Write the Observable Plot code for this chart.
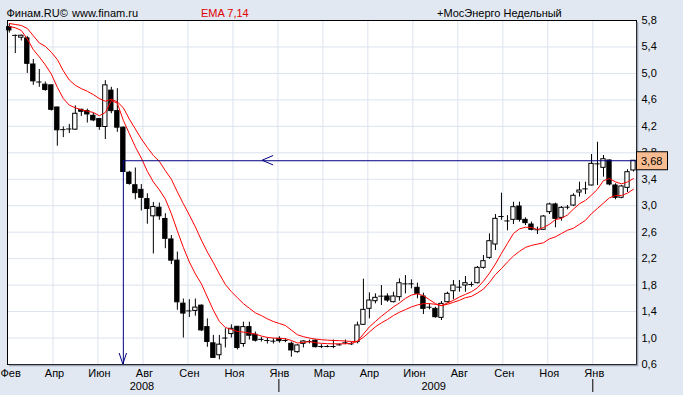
<!DOCTYPE html>
<html><head><meta charset="utf-8">
<script src="https://cdn.jsdelivr.net/npm/d3@7"></script>
<script src="https://cdn.jsdelivr.net/npm/@observablehq/plot@0.6"></script>
<style>
html,body{margin:0;padding:0;background:#E1E8F2;overflow:hidden;}
#chart svg{display:block;}
</style></head><body><div id="chart"></div>
<script>
// Weekly candles, index 0 = first week of Feb 2008
const opens  = [5.70,5.58,5.54,5.53,5.135,4.87,4.83,4.82,4.485,4.15,4.16,4.15,4.45,4.43,4.36,4.31,4.19,4.74,4.43,4.18,
  3.50,3.31,3.24,3.10,2.84,2.97,2.80,2.49,2.17,1.52,1.41,1.41,1.49,1.165,0.92,0.74,1.00,1.06,1.17,0.91,
  1.165,1.05,0.98,0.963,0.953,0.988,0.963,0.913,0.787,0.912,0.948,0.96,0.872,0.872,0.872,0.897,0.928,0.912,0.938,1.20,
  1.442,1.557,1.633,1.628,1.542,1.618,1.819,1.819,1.759,1.628,1.466,1.441,1.305,1.542,1.708,1.769,1.794,1.809,1.829,2.061,
  2.212,2.414,2.837,2.77,2.787,2.988,2.787,2.716,2.636,2.636,2.903,3.019,2.817,2.978,3.003,3.20,3.255,3.306,3.633,3.573,
  3.684,3.306,3.12,3.27,3.533];
const highs  = [5.74,5.58,5.58,5.56,5.21,5.06,4.87,4.82,4.49,4.19,4.23,4.51,4.46,4.46,4.40,4.32,4.89,4.79,4.77,4.19,
  3.52,3.57,3.32,3.18,3.05,3.04,2.88,2.55,2.30,1.59,1.58,1.59,1.50,1.29,1.04,1.04,1.14,1.20,1.17,1.24,
  1.24,1.09,1.01,1.00,0.99,1.02,0.99,0.94,0.90,0.96,0.97,0.97,0.90,0.888,0.97,0.91,0.97,0.937,1.24,1.89,
  1.683,1.668,1.794,1.668,1.693,1.895,1.945,1.88,1.829,1.678,1.517,1.466,1.552,1.693,1.87,1.87,1.93,1.844,2.081,2.247,
  2.575,2.867,3.19,2.85,3.054,3.054,2.817,2.752,2.676,2.852,3.039,3.039,2.988,3.003,3.18,3.356,3.356,3.774,3.96,3.759,
  3.693,3.331,3.306,3.543,3.684];
const lows   = [5.61,5.30,5.49,5.00,4.82,4.79,4.73,4.43,3.90,4.03,4.09,4.14,4.35,4.25,4.27,4.14,4.00,4.39,4.11,3.50,
  3.31,3.09,2.92,2.72,2.27,2.78,2.35,2.11,1.42,1.00,1.31,1.33,1.10,0.86,0.70,0.67,0.85,1.00,0.82,0.86,
  0.97,0.94,0.94,0.91,0.91,0.923,0.93,0.71,0.77,0.85,0.91,0.85,0.84,0.852,0.84,0.88,0.90,0.887,0.912,1.19,
  1.29,1.517,1.492,1.54,1.532,1.557,1.668,1.744,1.593,1.356,1.426,1.30,1.265,1.53,1.578,1.693,1.693,1.769,1.819,2.04,
  2.19,2.323,2.78,2.62,2.716,2.752,2.701,2.62,2.565,2.626,2.867,2.666,2.767,2.938,2.988,3.13,3.17,3.30,3.306,3.432,
  3.30,3.09,3.105,3.20,3.51];
const closes = [5.65,5.575,5.57,5.145,4.88,4.87,4.75,4.45,4.14,4.15,4.16,4.39,4.42,4.38,4.29,4.19,4.82,4.43,4.18,3.51,
  3.33,3.19,3.12,2.95,2.98,2.84,2.50,2.17,1.54,1.37,1.41,1.46,1.115,0.94,0.70,0.90,1.00,1.14,0.85,1.165,
  1.035,0.96,0.98,0.963,0.953,0.953,0.963,0.812,0.888,0.948,0.948,0.862,0.872,0.872,0.872,0.897,0.928,0.912,1.19,1.426,
  1.567,1.608,1.633,1.567,1.628,1.829,1.819,1.819,1.668,1.441,1.466,1.315,1.517,1.668,1.794,1.769,1.829,1.809,2.061,2.162,
  2.464,2.802,2.837,2.77,2.978,2.787,2.737,2.636,2.636,2.837,3.019,2.802,2.968,2.978,3.15,3.23,3.255,3.633,3.633,3.703,
  3.321,3.12,3.291,3.507,3.68];

// EMA lines
const ema7 = [5.71,5.69,5.65,5.52,5.36,5.25,5.13,4.99,4.79,4.62,4.52,4.48,4.45,4.43,4.41,4.36,4.41,4.59,4.55,4.29,
  4.09,3.89,3.72,3.52,3.36,3.24,3.10,2.88,2.62,2.37,2.15,1.97,1.82,1.62,1.42,1.25,1.16,1.13,1.10,1.09,
  1.075,1.06,1.03,1.01,1.00,0.995,0.99,0.963,0.925,0.935,0.945,0.93,0.92,0.915,0.913,0.913,0.913,0.92,0.95,1.06,
  1.17,1.25,1.33,1.40,1.47,1.53,1.60,1.65,1.67,1.64,1.58,1.52,1.49,1.53,1.57,1.62,1.66,1.70,1.76,1.86,
  1.98,2.12,2.28,2.43,2.58,2.65,2.675,2.67,2.64,2.67,2.72,2.79,2.81,2.86,2.95,3.03,3.08,3.16,3.25,3.38,
  3.41,3.36,3.33,3.36,3.41];
const ema14 = [5.755,5.74,5.725,5.68,5.57,5.46,5.41,5.32,5.21,5.04,4.90,4.82,4.77,4.73,4.68,4.62,4.58,4.61,4.57,4.48,
  4.31,4.16,4.01,3.88,3.76,3.67,3.53,3.40,3.21,3.03,2.86,2.68,2.48,2.30,2.14,1.97,1.81,1.70,1.61,1.52,
  1.45,1.38,1.34,1.29,1.25,1.22,1.19,1.12,1.05,1.02,1.00,0.985,0.975,0.968,0.963,0.96,0.955,0.948,0.95,1.01,
  1.09,1.17,1.23,1.28,1.34,1.39,1.43,1.47,1.50,1.52,1.52,1.51,1.49,1.51,1.54,1.57,1.61,1.63,1.68,1.74,
  1.84,1.96,2.05,2.15,2.24,2.31,2.37,2.40,2.42,2.44,2.50,2.53,2.58,2.63,2.66,2.72,2.78,2.88,2.96,3.04,
  3.12,3.155,3.155,3.19,3.25];

// Axes
const yTicks = [0.6,1.0,1.4,1.8,2.2,2.6,3.0,3.4,3.8,4.2,4.6,5.0,5.4,5.8];
const monthNames = ["Фев","Апр","Июн","Авг","Сен","Ноя","Янв","Мар","Апр","Июн","Авг","Сен","Ноя","Янв"];
const monthIdx = [-0.22,7.28,14.77,22.27,29.76,37.26,44.75,52.25,59.74,67.24,74.73,82.23,89.72,97.22];
const yearNames = ["2008","2009"];
const yearIdx = [22.1,70.7];
const yearMarkIdx = [45.0,97.3];
const xMin = -0.3, xMax = 104.5, yMin = 0.6, yMax = 5.8;

// Annotation (horizontal level with arrow, vertical marker)
const levelPrice = 3.68, levelStartIdx = 19, levelArrowIdx = 42.2;
const lastPrice = 3.68;

const candles = opens.map((o,i)=>({i, open:o, high:highs[i], low:lows[i], close:closes[i]}));
const isDoji = d => Math.abs(d.open-d.close) < 0.008;
const e7 = ema7.map((v,i)=>({i,v}));
const e14 = ema14.map((v,i)=>({i,v}));
const fmt = v => v.toFixed(1).replace(".", ",");
const grid = "#DCE3EE", navy = "#000080";
const hw = 0.36;

const plot = Plot.plot({
  width: 683, height: 395,
  marginLeft: 7, marginRight: 47, marginTop: 20, marginBottom: 31,
  x: {type: "linear", domain: [xMin, xMax], axis: null},
  y: {domain: [yMin, yMax], axis: null},
  style: {background: "#E1E8F2", fontFamily: "'Liberation Sans', Arial, sans-serif", fontSize: "11px", color: "black"},
  marks: [
    Plot.frame({fill: "white"}),
    Plot.ruleY(yTicks.slice(1, -1), {stroke: grid}),
    Plot.ruleX(monthIdx.slice(1), {stroke: grid}),
    Plot.ruleX(candles, {x: "i", y1: "low", y2: "high", stroke: "black"}),
    Plot.rect(candles.filter(d => !isDoji(d) && d.close < d.open), {x1: d => d.i - hw, x2: d => d.i + hw, y1: "open", y2: "close", fill: "black", stroke: "black"}),
    Plot.rect(candles.filter(d => !isDoji(d) && d.close >= d.open), {x1: d => d.i - hw, x2: d => d.i + hw, y1: "open", y2: "close", fill: "white", stroke: "black"}),
    Plot.ruleY(candles.filter(isDoji), {y: "close", x1: d => d.i - hw - 0.08, x2: d => d.i + hw + 0.08, stroke: "black"}),
    Plot.line(e14, {x: "i", y: "v", stroke: "red", strokeWidth: 1}),
    Plot.line(e7, {x: "i", y: "v", stroke: "red", strokeWidth: 1}),
    Plot.ruleY([{y: levelPrice, x1: levelStartIdx, x2: xMax}], {y: "y", x1: "x1", x2: "x2", stroke: navy}),
    Plot.ruleX([{x: levelStartIdx, y1: yMin, y2: levelPrice}], {x: "x", y1: "y1", y2: "y2", stroke: navy}),
    Plot.frame({stroke: "black"}),
    Plot.text(yTicks, {x: xMax, y: d => d, text: fmt, textAnchor: "start", dx: 5, fill: "black"}),
    Plot.text(monthNames.map((t,k)=>({t, x: monthIdx[k]})).slice(1), {x: "x", y: yMin, text: "t", dy: 9, dx: 1.5, fill: "black"}),
    Plot.text([{t: monthNames[0], x: monthIdx[0]}], {x: "x", y: yMin, text: "t", dy: 9, dx: -7.5, textAnchor: "start", fill: "black"}),
    Plot.text(yearNames.map((t,k)=>({t, x: yearIdx[k]})), {x: "x", y: yMin, text: "t", dy: 22, fill: "black"})
  ]
});
document.getElementById("chart").appendChild(plot);

const X = plot.scale("x"), Y = plot.scale("y");
const sx = v => X.apply(v), sy = v => Y.apply(v);
const svg = d3.select(plot);
const font = "'Liberation Sans', Arial, sans-serif";

// frame shadow
const fx1 = sx(xMin), fx2 = sx(xMax), fy1 = sy(yMax), fy2 = sy(yMin);
svg.append("path").attr("d", `M${fx2+1.5},${fy1+2}V${fy2+1.5}H${fx1+2}`)
  .attr("fill", "none").attr("stroke", "#9AA2B4").attr("stroke-width", 1.5);

// arrowheads
const ax = sx(levelArrowIdx), ay = sy(levelPrice);
svg.append("path").attr("d", `M${ax+11},${ay-4.7}L${ax},${ay}L${ax+11},${ay+4.7}`)
  .attr("fill", "none").attr("stroke", navy);
const vx = sx(levelStartIdx), vy = sy(yMin);
svg.append("path").attr("d", `M${vx-3.7},${vy-11}L${vx},${vy}L${vx+3.7},${vy-11}`)
  .attr("fill", "none").attr("stroke", navy);

// year separators
yearMarkIdx.forEach(v => {
  svg.append("line").attr("x1", sx(v)).attr("x2", sx(v)).attr("y1", fy2 + 15).attr("y2", fy2 + 28)
    .attr("stroke", "black");
});

// last price box
function fmt2(v){ return v.toFixed(2).replace(".", ","); }
const py = sy(lastPrice);
svg.append("rect").attr("x", fx2 + 0.5).attr("y", py - 8.5).attr("width", 31).attr("height", 18)
  .attr("fill", "#F8BC92").attr("stroke", "black");
svg.append("text").attr("x", fx2 + 5).attr("y", py + 0.5).attr("dy", "0.35em").attr("text-anchor", "start")
  .attr("font-family", font).attr("font-size", 11).attr("fill", "black").text(fmt2(lastPrice));

// header texts
const header = [
  {t: "Финам.RU©", x: 6.5, c: "black"},
  {t: "www.finam.ru", x: 72, c: "black"},
  {t: "EMA 7,14", x: 201, c: "#E00000"},
  {t: "+МосЭнерго Недельный", x: 437, c: "black"}
];
header.forEach(h => {
  svg.append("text").attr("x", h.x).attr("y", 16.5).attr("text-anchor", "start").attr("font-family", font).attr("font-size", 11)
    .attr("fill", h.c).text(h.t);
});
</script>
</body></html>
